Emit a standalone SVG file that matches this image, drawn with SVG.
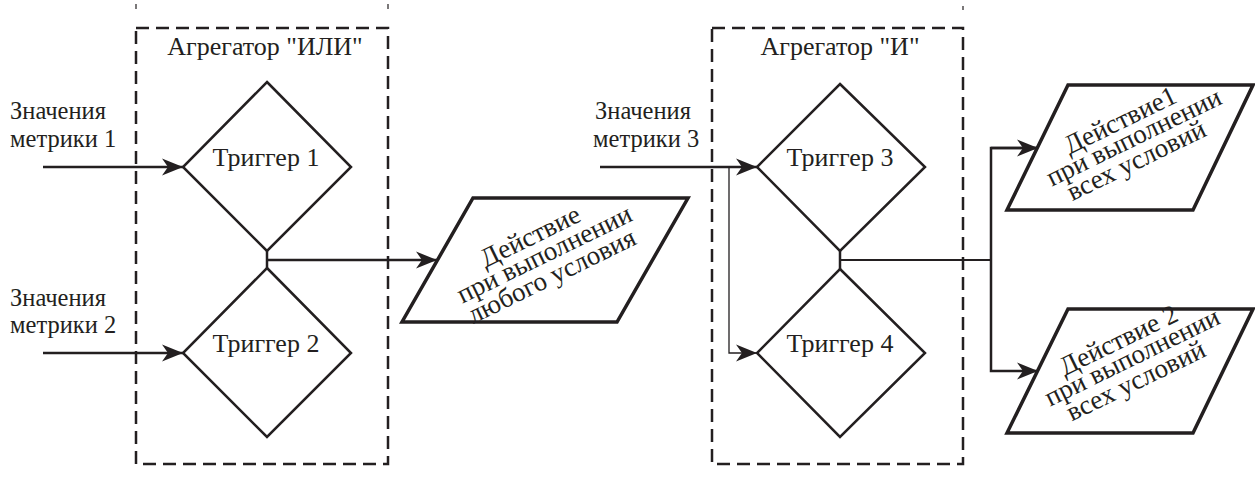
<svg xmlns="http://www.w3.org/2000/svg" width="1255" height="480" viewBox="0 0 1255 480">
<style>
  text { font-family: "Liberation Serif", "Times New Roman", serif; font-size: 26px; fill: #231f20; }
  .mid { text-anchor: middle; }
  .lbl { font-size: 24.5px; }
  .box { fill: none; stroke: #231f20; stroke-width: 2.5; stroke-dasharray: 13 7; }
  .dia { fill: #fff; stroke: #231f20; stroke-width: 2.5; stroke-linejoin: miter; }
  .par { fill: #fff; stroke: #231f20; stroke-width: 3.5; stroke-linejoin: miter; }
  .ln { fill: none; stroke: #231f20; stroke-width: 2.5; }
  .thin { fill: none; stroke: #231f20; stroke-width: 1.3; }
  .tick { stroke: #231f20; stroke-width: 1.2; }
  .ptext { font-size: 27px; }
</style>
<defs>
  <marker id="arr" markerUnits="userSpaceOnUse" markerWidth="24" markerHeight="20" viewBox="-22 -10 24 20" refX="0" refY="0" orient="auto">
    <path d="M0,0 L-21,-8.5 L-15,0 L-21,8.5 Z" fill="#231f20"/>
  </marker>
</defs>
<rect width="1255" height="480" fill="#fff"/>

<g id="ticks">
  <line class="tick" x1="136" y1="4" x2="136" y2="9"/>
  <line class="tick" x1="388" y1="4" x2="388" y2="9"/>
  <line class="tick" x1="963" y1="6" x2="963" y2="10"/>
</g>

<g id="agg-or">
  <rect class="box" x="136" y="28" width="252" height="436"/>
  <text class="mid" x="265" y="55">Агрегатор "ИЛИ"</text>
</g>
<g id="agg-and">
  <rect class="box" x="712" y="28" width="251" height="436"/>
  <text class="mid" x="840" y="55">Агрегатор "И"</text>
</g>

<g id="connectors">
  <line class="ln" x1="43" y1="167" x2="183" y2="167" marker-end="url(#arr)"/>
  <line class="ln" x1="43" y1="353" x2="183" y2="353" marker-end="url(#arr)"/>
  <line class="ln" x1="267" y1="250" x2="267" y2="269"/>
  <line class="ln" x1="267" y1="260" x2="437" y2="260" marker-end="url(#arr)"/>
  <line class="ln" x1="600" y1="167" x2="757" y2="167" marker-end="url(#arr)"/>
  <polyline class="thin" points="729,167 729,353 757,353" marker-end="url(#arr)"/>
  <line class="ln" x1="840" y1="250" x2="840" y2="270"/>
  <line class="ln" x1="840" y1="260" x2="991" y2="260" style="stroke-width:2"/>
  <polyline class="ln" points="1038,148 991,148 991,371 1038,371" marker-end="url(#arr)"/>
  <line class="ln" x1="991" y1="148" x2="1038" y2="148" marker-end="url(#arr)"/>
</g>

<g id="metric1">
  <text class="lbl" x="10" y="119">Значения<tspan x="10" dy="27.5">метрики 1</tspan></text>
</g>
<g id="metric2">
  <text class="lbl" x="10" y="305.5">Значения<tspan x="10" dy="27.5">метрики 2</tspan></text>
</g>
<g id="metric3">
  <text class="lbl" x="595" y="119">Значения<tspan x="593" dy="27.5">метрики 3</tspan></text>
</g>

<g id="trigger1">
  <polygon class="dia" points="267,82 351,167 267,251 183,167"/>
  <text class="mid" x="266" y="166">Триггер 1</text>
</g>
<g id="trigger2">
  <polygon class="dia" points="267,268 351,353 267,437 183,353"/>
  <text class="mid" x="266" y="352">Триггер 2</text>
</g>
<g id="trigger3">
  <polygon class="dia" points="840,84 925,167 840,251 757,167"/>
  <text class="mid" x="840" y="166">Триггер 3</text>
</g>
<g id="trigger4">
  <polygon class="dia" points="840,269 925,353 840,437 757,353"/>
  <text class="mid" x="840" y="352">Триггер 4</text>
</g>

<g id="action-any">
  <polygon class="par" points="473,198 688,198 617,322 402,322"/>
  <text class="mid ptext" transform="translate(545,260) rotate(-26)" x="-3" y="-19">Действие<tspan x="2" dy="22">при выполнении</tspan><tspan x="-1" dy="23">любого условия</tspan></text>
</g>
<g id="action-all-1">
  <polygon class="par" points="1068,85 1253,85 1193,210 1007,210"/>
  <text class="mid ptext" transform="translate(1130,147.5) rotate(-26)" x="3" y="-20">Действие1<tspan x="8" dy="21">при выполнении</tspan><tspan x="0" dy="22">всех условий</tspan></text>
</g>
<g id="action-all-2">
  <polygon class="par" points="1068,309 1253,309 1193,433 1007,433"/>
  <text class="mid ptext" transform="translate(1130,371) rotate(-26)" x="3" y="-24">Действие 2<tspan x="8" dy="21">при выполнении</tspan><tspan x="1" dy="23">всех условий</tspan></text>
</g>
</svg>
